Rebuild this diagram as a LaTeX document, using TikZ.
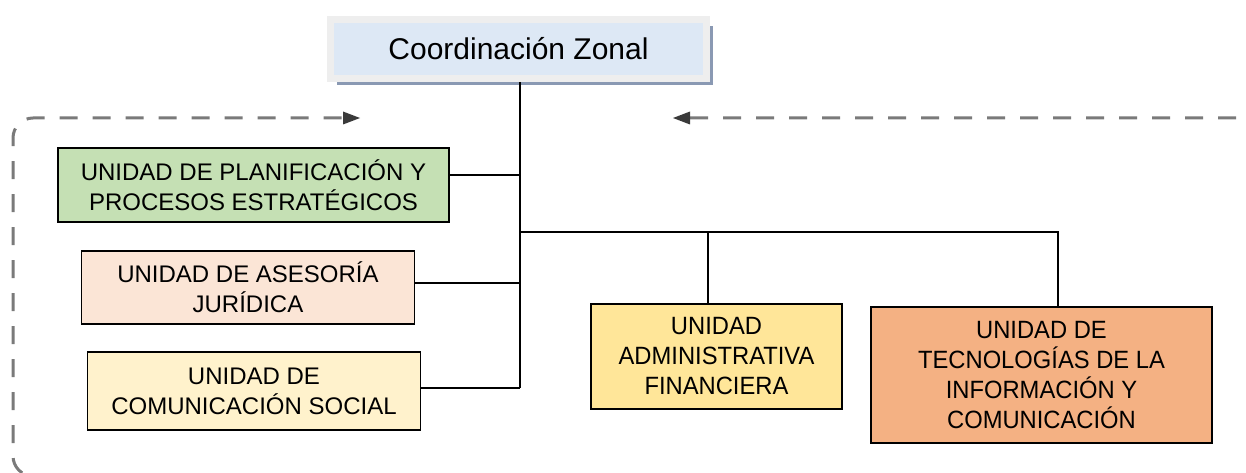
\documentclass[tikz,border=0pt]{standalone}
\usepackage{fontspec}
\setmainfont{Liberation Sans}
\newfontfamily\altafont{Liberation Sans}[FakeStretch=0.95]
\usepackage{tikz}
\usetikzlibrary{arrows.meta,shadows}
\definecolor{coordazul}{HTML}{DDE8F5}
\definecolor{coordgris}{HTML}{EEEEEE}
\definecolor{sombra}{HTML}{8A99B3}
\definecolor{planverde}{HTML}{C5E0B4}
\definecolor{asesrosa}{HTML}{FBE5D6}
\definecolor{comucrema}{HTML}{FFF2CC}
\definecolor{admamarillo}{HTML}{FFE699}
\definecolor{tecnaranja}{HTML}{F4B183}
\definecolor{marcogris}{HTML}{7A7A7A}
\definecolor{puntagris}{HTML}{3A3A3A}

\begin{document}
\begin{tikzpicture}[x=1pt,y=-1pt,
   unidad/.style={draw=black,line width=1.6pt,align=center,inner sep=0pt,
      font=\fontsize{24}{30}\selectfont},
   unidadder/.style={unidad,font=\altafont\fontsize{25}{30}\selectfont},
   enlace/.style={line width=1.6pt},
   marco/.style={draw=marcogris,line width=3pt,dash pattern=on 18pt off 15pt,
      rounded corners=20pt}]
       \useasboundingbox (0,0) rectangle (1246,473);
       \clip (0,0) rectangle (1246,473);
       \draw[marco,{Triangle[length=17pt,width=13pt,line width=0pt,fill=puntagris,color=puntagris]}-{Triangle[length=17pt,width=13pt,line width=0pt,fill=puntagris,color=puntagris]}]
        (673,118) -- (1258,118) -- (1258,476) -- (13,476) -- (13,118) -- (360,118);
       \node[draw=coordgris,line width=7pt,fill=coordazul,minimum width=376pt,
        minimum height=59pt,inner sep=0pt,font=\fontsize{30}{34}\selectfont,
        drop shadow={shadow xshift=6pt,shadow yshift=-7pt,fill=sombra,opacity=1}]
        (coord) at (518.5,49) {Coordinación Zonal};
       \node[unidad,fill=planverde,minimum width=391pt,minimum height=74pt]
        (plan) at (253.5,185) {UNIDAD DE PLANIFICACIÓN Y\\PROCESOS ESTRATÉGICOS};
       \node[unidad,fill=asesrosa,minimum width=333pt,minimum height=73pt]
        (ases) at (248,287.5) {UNIDAD DE ASESORÍA\\JURÍDICA};
       \node[unidad,fill=comucrema,minimum width=333pt,minimum height=78pt]
        (comu) at (254,391) {UNIDAD DE\\COMUNICACIÓN SOCIAL};
       \node[unidadder,fill=admamarillo,minimum width=251pt,minimum height=105pt]
        (adm) at (716.5,356.5) {UNIDAD\\ADMINISTRATIVA\\FINANCIERA};
       \node[unidadder,fill=tecnaranja,minimum width=341pt,minimum height=136pt]
        (tec) at (1041.5,375) {UNIDAD DE\\TECNOLOGÍAS DE LA\\INFORMACIÓN Y\\COMUNICACIÓN};
       \coordinate (tronco) at (520,388);
       \coordinate (jplan) at (520,175);
       \coordinate (jases) at (520,283);
       \coordinate (jrama) at (520,232);
       \coordinate (jadm) at (708,232);
       \coordinate (jtec) at (1058,232);
       \draw[enlace] (coord.south -| tronco) -- (tronco);
       \draw[enlace] (plan.east |- jplan) -- (jplan);
       \draw[enlace] (ases.east |- jases) -- (jases);
       \draw[enlace] (comu.east |- tronco) -- (tronco);
       \draw[enlace] (jrama) -- (jtec) -- (jtec |- tec.north);
       \draw[enlace] (jadm) -- (jadm |- adm.north);
      \end{tikzpicture}
\end{document}
